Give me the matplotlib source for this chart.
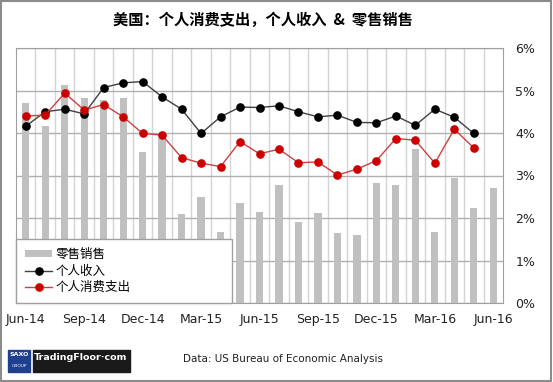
"""US personal spending, personal income and retail sales (y/y %)."""

import matplotlib

matplotlib.use("Agg", force=True)
import matplotlib.pyplot as plt
from matplotlib.patches import Rectangle
from matplotlib.ticker import FixedLocator, FuncFormatter

CJK = ["Noto Sans CJK SC", "DejaVu Sans"]

months = [
    "Jun-14", "Jul-14", "Aug-14", "Sep-14", "Oct-14", "Nov-14", "Dec-14",
    "Jan-15", "Feb-15", "Mar-15", "Apr-15", "May-15", "Jun-15", "Jul-15",
    "Aug-15", "Sep-15", "Oct-15", "Nov-15", "Dec-15", "Jan-16", "Feb-16",
    "Mar-16", "Apr-16", "May-16", "Jun-16",
]
retail_sales = [
    4.70, 4.17, 5.14, 4.82, 4.78, 4.82, 3.56, 3.89, 2.09, 2.50, 1.68, 2.35,
    2.13, 2.78, 1.91, 2.11, 1.65, 1.59, 2.83, 2.78, 3.62, 1.68, 2.95, 2.24, 2.71,
]
personal_income = [
    4.16, 4.50, 4.56, 4.45, 5.07, 5.18, 5.21, 4.85, 4.56, 3.99, 4.38, 4.61,
    4.60, 4.64, 4.50, 4.38, 4.42, 4.25, 4.24, 4.40, 4.18, 4.56, 4.37, 3.99, None,
]
personal_spending = [
    4.40, 4.42, 4.94, 4.54, 4.67, 4.38, 3.99, 3.95, 3.42, 3.29, 3.21, 3.80,
    3.51, 3.62, 3.30, 3.32, 3.01, 3.15, 3.35, 3.87, 3.83, 3.29, 4.09, 3.65, None,
]
label_sales = "零售销售"
label_income = "个人收入"
label_spending = "个人消费支出"
title = "美国：个人消费支出，个人收入  &  零售销售"
source = "Data: US Bureau of Economic Analysis"

x = list(range(len(months)))
inc = [v if v is not None else float("nan") for v in personal_income]
pce = [v if v is not None else float("nan") for v in personal_spending]

fig = plt.figure(figsize=(5.53, 3.82), dpi=100)
ax = fig.add_axes([16 / 553, 1 - 303 / 382, 487 / 553, 255 / 382])

bars = ax.bar(x, retail_sales, width=0.37, color="#c0c0c0", label=label_sales, zorder=2)
line_inc, = ax.plot(x, inc, color="#404040", lw=1.0, marker="o", ms=5.2,
                    mfc="black", mec="black", label=label_income, zorder=3)
line_pce, = ax.plot(x, pce, color="#d04040", lw=1.0, marker="o", ms=5.2,
                    mfc="#cc0000", mec="#cc0000", label=label_spending, zorder=3)

ax.set_xlim(-0.5, len(months) - 0.5)
ax.set_ylim(0, 6)
ax.yaxis.tick_right()
ax.yaxis.set_major_locator(FixedLocator(range(7)))
ax.yaxis.set_major_formatter(FuncFormatter(lambda v, _: f"{v:.0f}%"))
ax.set_xticks(x[::3])
ax.set_xticklabels(months[::3])
ax.xaxis.set_minor_locator(FixedLocator([i + 0.5 for i in x[:-1]]))
ax.tick_params(which="both", length=0)
ax.tick_params(axis="y", pad=9, labelsize=9, labelcolor="#222222")
ax.tick_params(axis="x", pad=7, labelsize=9, labelcolor="#222222")

ax.grid(True, axis="y", which="major", color="#b0b0b0", lw=1.0, zorder=0)
ax.grid(True, axis="x", which="minor", color="#d4d4d4", lw=1.0, zorder=0)
ax.set_axisbelow(True)
for spine in ax.spines.values():
    spine.set_color("#a0a0a0")

leg = ax.legend([bars, line_inc, line_pce], [label_sales, label_income, label_spending],
                loc="lower left", bbox_to_anchor=(0, 0, 216 / 487, 1),
                mode="expand", borderaxespad=0, prop={"family": CJK, "size": 9},
                handlelength=2.2, handleheight=0.5, handletextpad=0.3,
                labelspacing=0.3, borderpad=0.7, fancybox=False, framealpha=1,
                edgecolor="#a0a0a0")
leg.get_frame().set_linewidth(1.0)
leg.set_zorder(5)

fig.text(113 / 553, 1 - 20 / 382, title, family=CJK, fontsize=11,
         fontweight="bold", va="center", ha="left")
fig.text(183 / 553, 1 - 359 / 382, source, fontsize=7.5, va="center",
         color="#222222")

# TradingFloor logo
fig.patches.append(Rectangle((8 / 553, 1 - 372 / 382), 22 / 553, 22 / 382,
                             transform=fig.transFigure, color="#1f3f8f"))
fig.text(19 / 553, 1 - 355 / 382, "SAXO", fontsize=4.5, color="white",
         ha="center", va="center", fontweight="bold")
fig.text(19 / 553, 1 - 366 / 382, "GROUP", fontsize=3.2, color="white",
         ha="center", va="center")
fig.patches.append(Rectangle((33 / 553, 1 - 372 / 382), 97 / 553, 22 / 382,
                             transform=fig.transFigure, color="#1a1a1a"))
fig.text(81 / 553, 1 - 358 / 382, "TradingFloor·com", fontsize=6.8,
         color="white", ha="center", va="center", fontweight="bold")

# outer frame
fig.patches.append(Rectangle((0.002, 0.003), 0.995, 0.994, transform=fig.transFigure,
                             fill=False, edgecolor="#8c8c8c", lw=1.5))

fig.savefig("out.png", dpi=100)
